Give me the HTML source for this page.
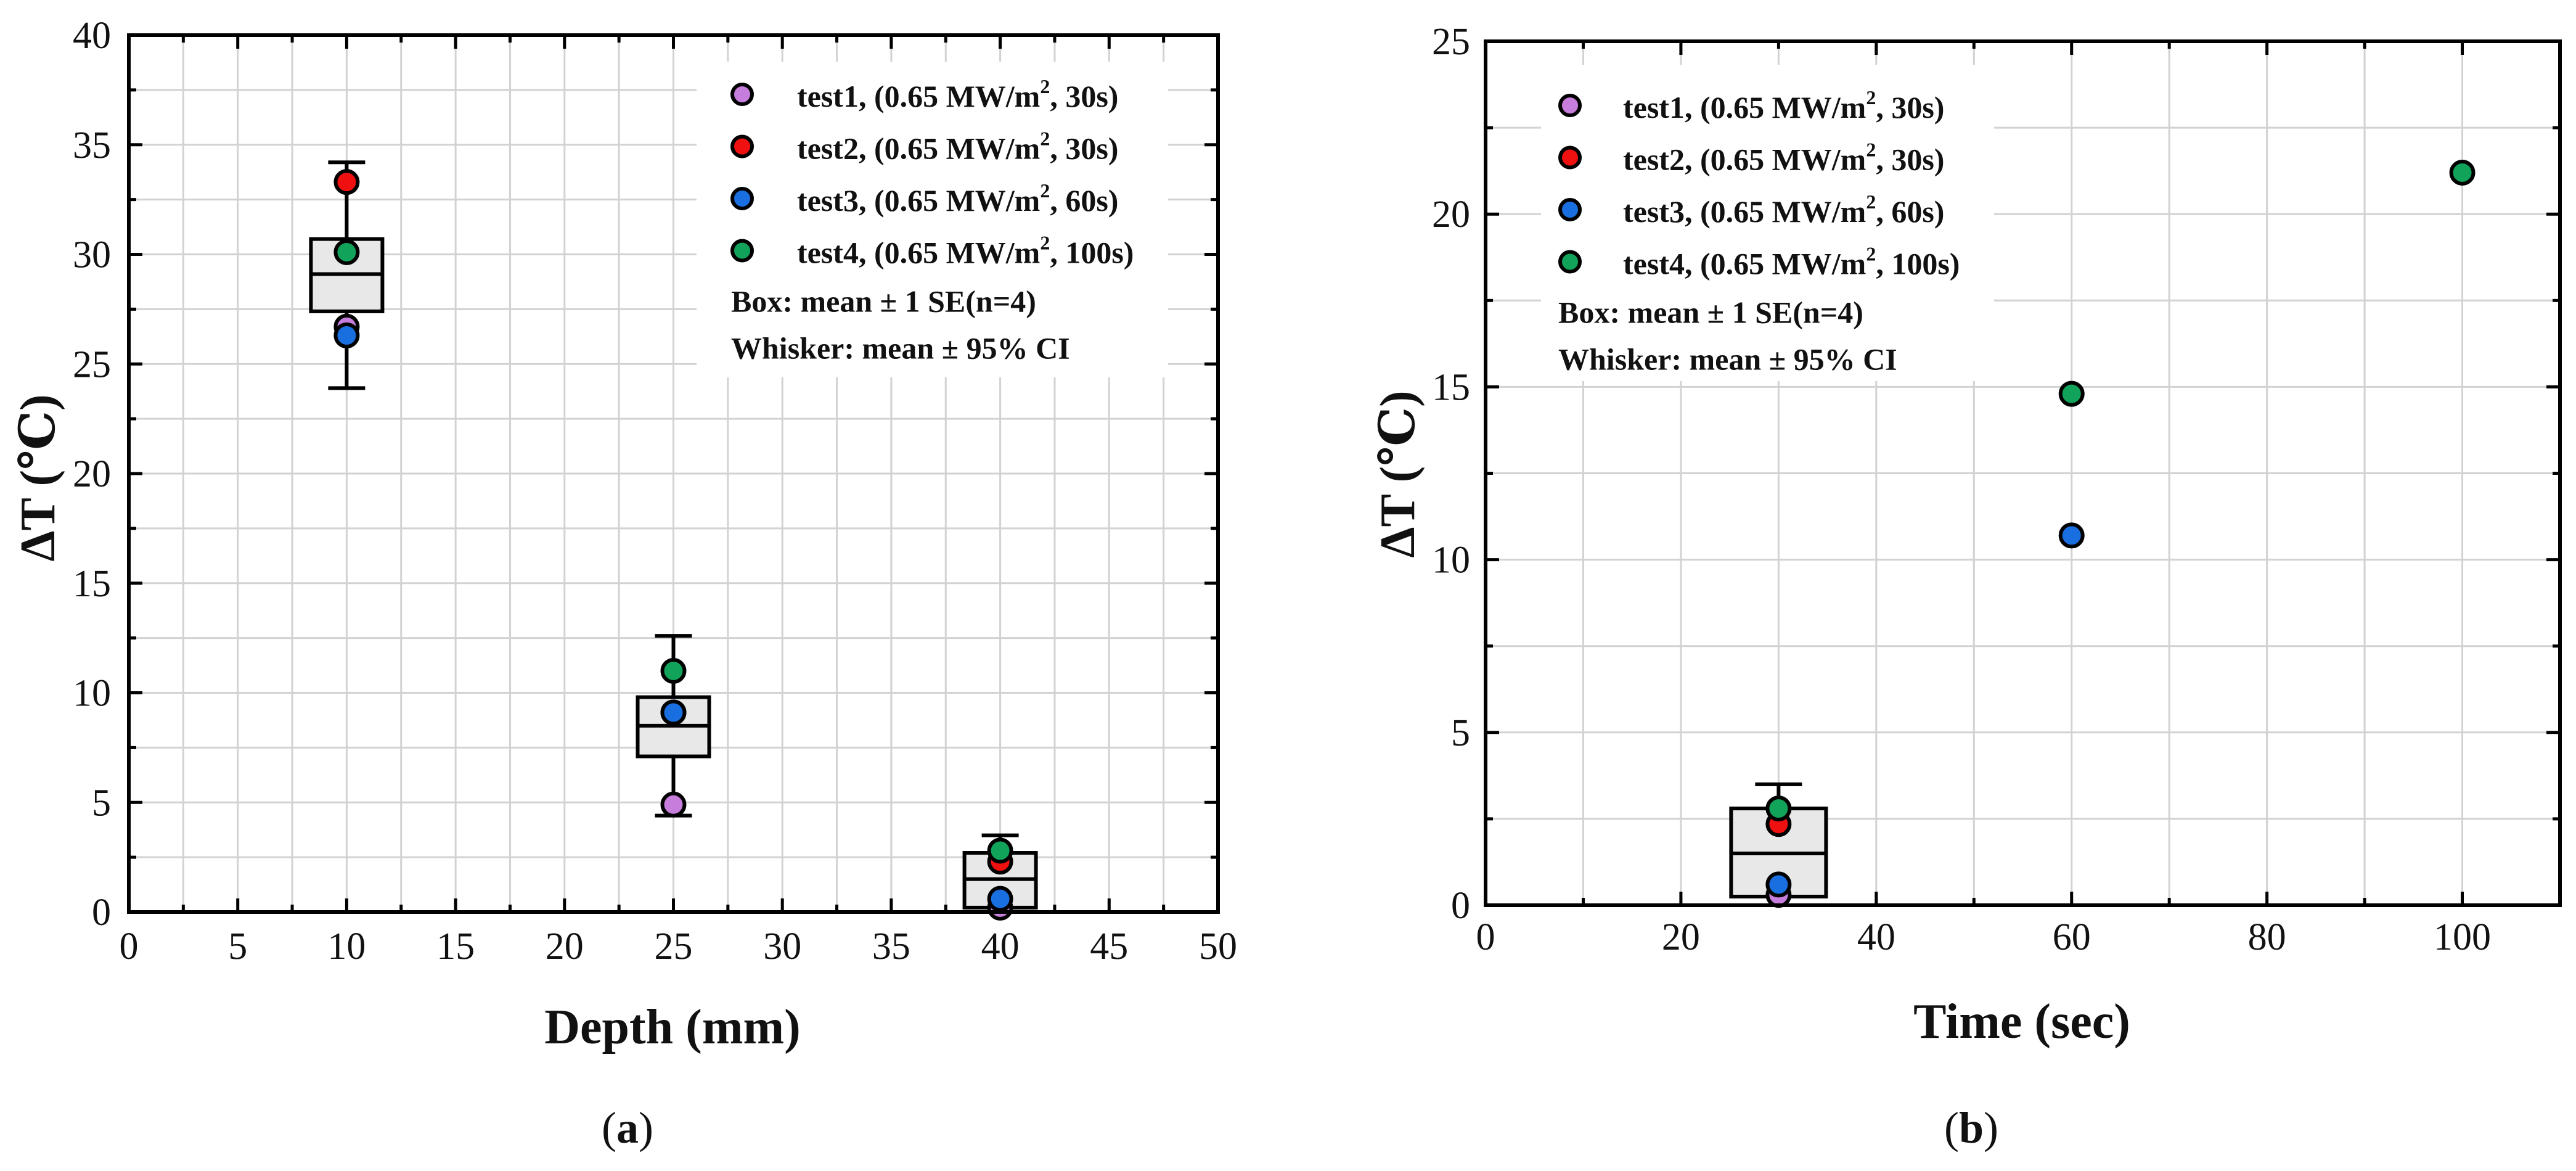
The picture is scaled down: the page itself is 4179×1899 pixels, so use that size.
<!DOCTYPE html>
<html><head><meta charset="utf-8"><style>
html,body{margin:0;padding:0;background:#fff;}
svg{display:block;}
text{font-family:"Liberation Serif","DejaVu Serif",serif;fill:#111;}
</style></head><body>
<svg id="fig" xmlns="http://www.w3.org/2000/svg" width="4179" height="1899" viewBox="0 0 4179 1899"></svg>
<script>
// ---- Panel (a) data ----
const depthCats = [10, 25, 40];
const depthTest1 = [26.7, 4.9, 0.2];
const depthTest2 = [33.3, 9.1, 2.3];
const depthTest3 = [26.3, 9.1, 0.6];
const depthTest4 = [30.1, 11.0, 2.8];
const depthBoxLow = [27.4, 7.1, 0.2];
const depthBoxHigh = [30.7, 9.8, 2.7];
const depthMean = [29.1, 8.5, 1.5];
const depthWhiskLow = [23.9, 4.4, -0.5];
const depthWhiskHigh = [34.2, 12.6, 3.5];
const depthXTicks = [0,5,10,15,20,25,30,35,40,45,50];
const depthYTicks = [0,5,10,15,20,25,30,35,40];

// ---- Panel (b) data ----
const timeTest1X = [30]; const timeTest1 = [0.3];
const timeTest2X = [30]; const timeTest2 = [2.35];
const timeTest3X = [30, 60]; const timeTest3 = [0.6, 10.7];
const timeTest4X = [30, 60, 100]; const timeTest4 = [2.8, 14.8, 21.2];
const timeBoxCats = [30];
const timeBoxLow = [0.25];
const timeBoxHigh = [2.8];
const timeMean = [1.5];
const timeWhiskLow = [-0.5];
const timeWhiskHigh = [3.5];
const timeXTicks = [0,20,40,60,80,100];
const timeYTicks = [0,5,10,15,20,25];

const legendLabels = ["test1, (0.65 MW/m", "test2, (0.65 MW/m", "test3, (0.65 MW/m", "test4, (0.65 MW/m"];
const legendTails = [", 30s)", ", 30s)", ", 60s)", ", 100s)"];
const colors = ["#c77ddb", "#f01010", "#1a6fe0", "#12a35a"];

const NS = "http://www.w3.org/2000/svg";
const svg = document.getElementById("fig");
function mk(tag, attrs, parent) {
  const e = document.createElementNS(NS, tag);
  for (const k in attrs) e.setAttribute(k, attrs[k]);
  (parent || svg).appendChild(e);
  return e;
}

function panel(cfg) {
  const g = mk("g", {});
  
  
  const X = v => cfg.x0 + (v - cfg.xmin) / (cfg.xmax - cfg.xmin) * (cfg.x1 - cfg.x0);
  const Y = v => cfg.y0 - (v - cfg.ymin) / (cfg.ymax - cfg.ymin) * (cfg.y0 - cfg.y1);
  const grid = mk("g", {stroke: "#d2d2d2", "stroke-width": 3}, g);
  
  
  for (let v = cfg.xmin + cfg.xminor; v < cfg.xmax - 1e-6; v += cfg.xminor) mk("line", {x1: X(v), x2: X(v), y1: cfg.y1, y2: cfg.y0}, grid);
  for (let v = cfg.ymin + cfg.yminor; v < cfg.ymax - 1e-6; v += cfg.yminor) mk("line", {x1: cfg.x0, x2: cfg.x1, y1: Y(v), y2: Y(v)}, grid);
  const lbg = mk("rect", {x: cfg.leg.bx, y: cfg.leg.by, width: cfg.leg.bw, height: cfg.leg.bh, fill: "#fff"}, g);
  
  
  const tk = mk("g", {stroke: "#000", "stroke-width": 5}, g);
  
  
  for (let v = cfg.xmin + cfg.xminor; v < cfg.xmax - 1e-6; v += cfg.xminor) {
    const major = Math.abs(((v - cfg.xmin) / cfg.xmajor) - Math.round((v - cfg.xmin) / cfg.xmajor)) < 1e-6;
    const L = major ? 22 : 12;
    mk("line", {x1: X(v), x2: X(v), y1: cfg.y0, y2: cfg.y0 - L}, tk);
    mk("line", {x1: X(v), x2: X(v), y1: cfg.y1, y2: cfg.y1 + L}, tk);
  }
  for (let v = cfg.ymin + cfg.yminor; v < cfg.ymax - 1e-6; v += cfg.yminor) {
    const major = Math.abs(((v - cfg.ymin) / cfg.ymajor) - Math.round((v - cfg.ymin) / cfg.ymajor)) < 1e-6;
    const L = major ? 22 : 12;
    mk("line", {x1: cfg.x0, x2: cfg.x0 + L, y1: Y(v), y2: Y(v)}, tk);
    mk("line", {x1: cfg.x1, x2: cfg.x1 - L, y1: Y(v), y2: Y(v)}, tk);
  }
  cfg.boxCats.forEach((c, i) => {
    const bg = mk("g", {}, g);
    
    
    const cx = X(c);
    mk("line", {x1: cx, x2: cx, y1: Y(Math.max(cfg.wl[i], cfg.ymin)), y2: Y(cfg.wh[i]), stroke: "#000", "stroke-width": 6}, bg);
    mk("line", {x1: cx - cfg.capW, x2: cx + cfg.capW, y1: Y(cfg.wh[i]), y2: Y(cfg.wh[i]), stroke: "#000", "stroke-width": 6}, bg);
    if (cfg.wl[i] >= cfg.ymin) mk("line", {x1: cx - cfg.capW, x2: cx + cfg.capW, y1: Y(cfg.wl[i]), y2: Y(cfg.wl[i]), stroke: "#000", "stroke-width": 6}, bg);
    mk("rect", {x: cx - cfg.boxW, y: Y(cfg.bh[i]), width: 2 * cfg.boxW, height: Y(cfg.bl[i]) - Y(cfg.bh[i]), fill: "#e8e8e8", stroke: "#000", "stroke-width": 6}, bg);
    mk("line", {x1: cx - cfg.boxW, x2: cx + cfg.boxW, y1: Y(cfg.mean[i]), y2: Y(cfg.mean[i]), stroke: "#000", "stroke-width": 6}, bg);
  });
  cfg.series.forEach((s, si) => {
    const sg = mk("g", {}, g);
    
    
    s.x.forEach((xv, j) => {
      const c = mk("circle", {cx: X(xv), cy: Y(s.y[j]), r: 18, fill: colors[si], stroke: "#000", "stroke-width": 6}, sg);
      
      
    });
  });
  const fr = mk("rect", {x: cfg.x0, y: cfg.y1, width: cfg.x1 - cfg.x0, height: cfg.y0 - cfg.y1, fill: "none", stroke: "#000", "stroke-width": 6}, g);
  
  
  cfg.xTicks.forEach(v => {
    const t = mk("text", {x: X(v), y: cfg.xLabY, "font-size": 62, "text-anchor": "middle"}, g);
    t.textContent = v;
    
    
  });
  cfg.yTicks.forEach(v => {
    const t = mk("text", {x: cfg.yLabX, y: Y(v) + 21, "font-size": 62, "text-anchor": "end"}, g);
    t.textContent = v;
    
    
  });
  const xt = mk("text", {x: cfg.xTitleX, y: cfg.xTitleY, "font-size": 80, "font-weight": "bold", "text-anchor": "middle"}, g);
  xt.textContent = cfg.xTitle;
  
  
  const yt = mk("text", {x: 0, y: 0, "font-size": 80, "font-weight": "bold", "text-anchor": "middle", transform: "translate(" + (cfg.yTitleX + 28) + "," + cfg.yTitleY + ") rotate(-90)"}, g);
  yt.textContent = "ΔT (℃)";
  
  
  const cap = mk("text", {x: cfg.capX, y: 1853, "font-size": 72, "text-anchor": "middle"}, g);
  cap.innerHTML = '(<tspan font-weight="bold">' + cfg.capL + '</tspan>)';
  
  
  const lg = mk("g", {}, g);
  
  
  legendLabels.forEach((lab, i) => {
    const cy = cfg.leg.my + i * 84.5;
    const m = mk("circle", {cx: cfg.leg.mx, cy: cy, r: 16, fill: colors[i], stroke: "#000", "stroke-width": 6}, lg);
    
    
    const t = mk("text", {x: cfg.leg.tx, y: cy + 20, "font-size": 50, "font-weight": "bold"}, lg);
    t.innerHTML = lab + '<tspan font-size="32" dy="-22">2</tspan><tspan dy="22">' + legendTails[i] + '</tspan>';
    
    
  });
  const b1 = mk("text", {x: cfg.leg.bx2, y: cfg.leg.my + 3 * 84.5 + 99, "font-size": 50, "font-weight": "bold"}, lg);
  b1.textContent = "Box: mean ± 1 SE(n=4)";
  
  
  const b2 = mk("text", {x: cfg.leg.bx2, y: cfg.leg.my + 3 * 84.5 + 175, "font-size": 50, "font-weight": "bold"}, lg);
  b2.textContent = "Whisker: mean ± 95% CI";
  
  
}

panel({
  name: "panel-a-depth", x0: 209, x1: 1976, y0: 1479, y1: 57, xmin: 0, xmax: 50, ymin: 0, ymax: 40,
  xminor: 2.5, xmajor: 5, yminor: 2.5, ymajor: 5,
  boxCats: depthCats, bl: depthBoxLow, bh: depthBoxHigh, mean: depthMean, wl: depthWhiskLow, wh: depthWhiskHigh,
  boxW: 58, capW: 30,
  series: [{x: depthCats, y: depthTest1}, {x: depthCats, y: depthTest2}, {x: depthCats, y: depthTest3}, {x: depthCats, y: depthTest4}],
  xTicks: depthXTicks, yTicks: depthYTicks, xLabY: 1555, yLabX: 180,
  xTitle: "Depth (mm)", xTitleX: 1091, xTitleY: 1692, yTitleX: 60, yTitleY: 775,
  capX: 1018, capL: "a",
  leg: {bx: 1130, by: 100, bw: 765, bh: 512, mx: 1204, my: 153, tx: 1293, bx2: 1186}
});
panel({
  name: "panel-b-time", x0: 2410, x1: 4153, y0: 1468, y1: 67, xmin: 0, xmax: 110, ymin: 0, ymax: 25,
  xminor: 10, xmajor: 20, yminor: 2.5, ymajor: 5,
  boxCats: timeBoxCats, bl: timeBoxLow, bh: timeBoxHigh, mean: timeMean, wl: timeWhiskLow, wh: timeWhiskHigh,
  boxW: 77, capW: 38,
  series: [{x: timeTest1X, y: timeTest1}, {x: timeTest2X, y: timeTest2}, {x: timeTest3X, y: timeTest3}, {x: timeTest4X, y: timeTest4}],
  xTicks: timeXTicks, yTicks: timeYTicks, xLabY: 1540, yLabX: 2385,
  xTitle: "Time (sec)", xTitleX: 3280, xTitleY: 1683, yTitleX: 2266, yTitleY: 769,
  capX: 3198, capL: "b",
  leg: {bx: 2500, by: 105, bw: 735, bh: 513, mx: 2547, my: 171, tx: 2633, bx2: 2528}
});
</script>
</body></html>
